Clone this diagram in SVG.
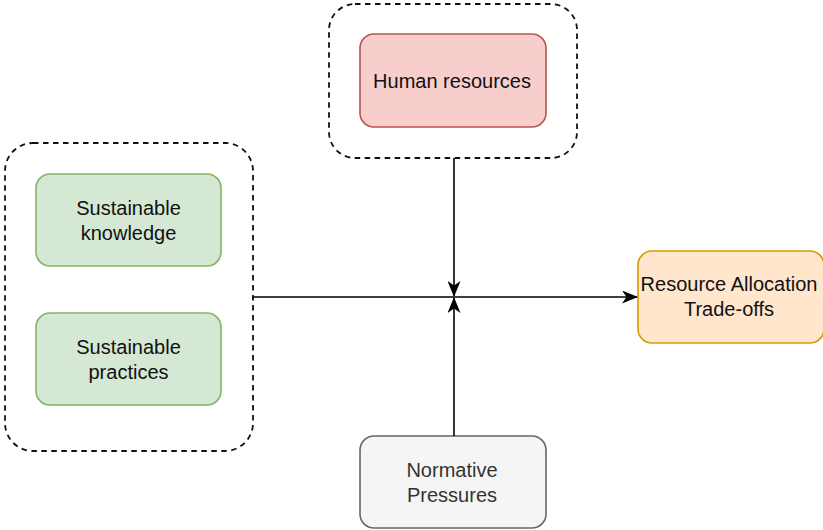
<svg xmlns="http://www.w3.org/2000/svg" width="823" height="530" viewBox="0 0 823 530">
  <defs>
    <marker id="arrow" viewBox="0 0 16 13" refX="15" refY="6.5" markerWidth="16" markerHeight="13" markerUnits="userSpaceOnUse" orient="auto">
      <path d="M0,0 L16,6.5 L0,13 L4.5,6.5 Z" fill="#000"/>
    </marker>
  </defs>
  <style>
    text { font-family: "Liberation Sans", Arial, sans-serif; font-size: 20px; text-anchor: middle; fill: #111; }
    .group { fill: none; stroke: #111; stroke-width: 1.8; stroke-dasharray: 5.5 4.5; }
    .red { fill: #f8cecc; stroke: #b85450; stroke-width: 1.6; }
    .green { fill: #d5e8d4; stroke: #82b366; stroke-width: 1.6; }
    .orange { fill: #ffe6cc; stroke: #d79b00; stroke-width: 1.6; }
    .gray { fill: #f5f5f5; stroke: #666666; stroke-width: 1.6; }
    .gray-text { fill: #333333; }
    .edge { fill: none; stroke: #000; stroke-width: 1.6; }
  </style>

  <!-- dashed containers -->
  <g id="hr-group">
    <rect class="group" x="329" y="4" width="248" height="154" rx="26"/>
  </g>
  <g id="sustainability-group">
    <rect class="group" x="5" y="143" width="248" height="308" rx="28"/>
  </g>

  <!-- nodes -->
  <g id="human-resources">
    <rect class="red" x="360" y="34" width="186" height="93" rx="14"/>
    <text x="452" y="88">Human resources</text>
  </g>
  <g id="sustainable-knowledge">
    <rect class="green" x="36" y="174" width="185" height="92" rx="14"/>
    <text x="128.5" y="215">Sustainable</text>
    <text x="128.5" y="240">knowledge</text>
  </g>
  <g id="sustainable-practices">
    <rect class="green" x="36" y="313" width="185" height="92" rx="14"/>
    <text x="128.5" y="354">Sustainable</text>
    <text x="128.5" y="379">practices</text>
  </g>
  <g id="resource-allocation">
    <rect class="orange" x="638" y="251" width="186" height="92" rx="14"/>
    <text x="729" y="291">Resource Allocation</text>
    <text x="729" y="316">Trade-offs</text>
  </g>
  <g id="normative-pressures">
    <rect class="gray" x="360" y="436" width="186" height="92" rx="14"/>
    <text class="gray-text" x="452" y="477">Normative</text>
    <text class="gray-text" x="452" y="502">Pressures</text>
  </g>

  <!-- connectors -->
  <g id="connectors">
    <path class="edge" d="M253,297 L637,297" marker-end="url(#arrow)"/>
    <path class="edge" d="M454,158 L454,296" marker-end="url(#arrow)"/>
    <path class="edge" d="M454,436 L454,298" marker-end="url(#arrow)"/>
  </g>
</svg>
